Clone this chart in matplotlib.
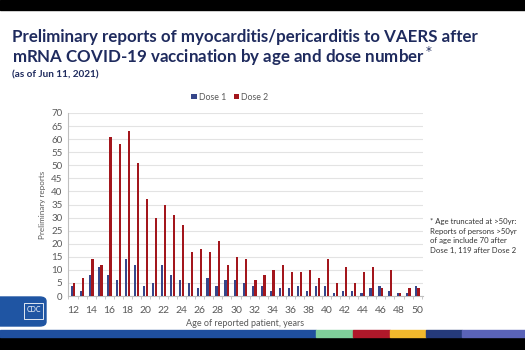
import matplotlib
matplotlib.use('Agg')
import matplotlib.pyplot as plt
from matplotlib.patches import Rectangle, FancyBboxPatch
import numpy as np

plt.rcParams['font.family'] = ['Lato', 'DejaVu Sans']

# reports by age of patient (12-50)
ages = list(range(12, 51))
dose1 = [4, 2, 8, 11, 8, 6, 14, 12, 4, 5, 12, 8, 6, 5, 3, 7, 4, 6, 6, 5,
         4, 4, 2, 3, 3, 4, 2, 4, 4, 1, 2, 2, 1, 3, 4, 2, 1, 1, 4]
dose2 = [5, 7, 14, 12, 61, 58, 63, 51, 37, 30, 35, 31, 27, 17, 18, 17, 21, 12, 15, 14,
         6, 8, 10, 12, 9, 9, 10, 7, 14, 5, 11, 5, 9, 11, 3, 10, 1, 3, 3]
tick_ages = list(range(12, 51, 2))

navy = '#1f2b5e'
blue = '#36468a'
red = '#a3161c'
grey = '#595959'

fig = plt.figure(figsize=(5.25, 3.5), dpi=100)
fig.patch.set_facecolor('white')

# screen bands
fig.add_artist(Rectangle((0, 1 - 10 / 350), 1, 10 / 350, transform=fig.transFigure,
                         color='black', zorder=0))
fig.add_artist(Rectangle((0, 0), 1, 13 / 350, transform=fig.transFigure,
                         color='black', zorder=0))
stripe = [(0, 316, '#1f4f9e'), (316, 353, '#7fcf9a'), (353, 390, '#b0182a'),
          (390, 426, '#f1b82d'), (426, 462, '#253a7a'), (462, 525, '#5a63b8')]
for x0, x1, c in stripe:
    fig.add_artist(Rectangle((x0 / 525, 13 / 350), (x1 - x0) / 525, 7 / 350,
                             transform=fig.transFigure, color=c, zorder=1))

# title
fig.text(12 / 525, 1 - 42 / 350, 'Preliminary reports of myocarditis/pericarditis to VAERS after',
         fontsize=12.2, fontweight='bold', color=navy)
fig.text(12 / 525, 1 - 63 / 350, 'mRNA COVID-19 vaccination by age and dose number$^*$',
         fontsize=12.2, fontweight='bold', color=navy)
fig.text(12 / 525, 1 - 77 / 350, '(as of Jun 11, 2021)',
         fontsize=7.2, fontweight='bold', color=navy)

ax = fig.add_axes([68 / 525, 54 / 350, 355 / 525, 183 / 350])
x = np.array(ages)
w = 0.24
ax.bar(x - 0.15, dose1, width=w, color=blue, label='Dose 1', zorder=3)
ax.bar(x + 0.15, dose2, width=w, color=red, label='Dose 2', zorder=3)

ax.set_xlim(11.45, 50.65)
ax.set_ylim(0, 70)
ax.set_yticks(range(0, 71, 5))
ax.set_xticks(tick_ages)
ax.set_xticks(np.arange(11.5, 51, 1), minor=True)
ax.tick_params(axis='x', which='major', length=0, pad=7, labelsize=7.5, colors=grey)
ax.tick_params(axis='x', which='minor', length=2.5, color='#bfbfbf')
ax.tick_params(axis='y', length=0, pad=4, labelsize=7, colors=grey)
ax.grid(axis='y', color='#e3e3e3', lw=0.8, zorder=0)
for s in ['top', 'right']:
    ax.spines[s].set_visible(False)
ax.spines['left'].set_color('#bfbfbf')
ax.spines['bottom'].set_color('#bfbfbf')
ax.set_ylabel('Preliminary reports', fontsize=5.8, color=grey, labelpad=4)
ax.set_xlabel('Age of reported patient, years', fontsize=6.5, color=grey, labelpad=3)

fig.legend(loc='center', bbox_to_anchor=(230 / 525, 1 - 97 / 350), ncol=2, frameon=False,
           fontsize=6.3, handlelength=0.6, handleheight=0.6, columnspacing=0.8,
           handletextpad=0.3, labelcolor=grey)

fig.text(430 / 525, 1 - 236 / 350,
         '* Age truncated at >50yr:\nReports of persons >50yr\nof age include 70 after\nDose 1, 119 after Dose 2',
         fontsize=5.6, color='#333333', va='center', linespacing=1.4)

# CDC logo box
logo = FancyBboxPatch((-6 / 525, 24 / 350), 52 / 525, 29 / 350, boxstyle='round,pad=0,rounding_size=0.012',
                      transform=fig.transFigure, color='#1f55a3', zorder=2)
fig.add_artist(logo)
fig.add_artist(Rectangle((24 / 525, 31 / 350), 19 / 525, 16 / 350, transform=fig.transFigure,
                         fill=False, ec='white', lw=0.6, zorder=3))
fig.text(33.5 / 525, 41 / 350, 'CDC', fontsize=5, color='white', ha='center', va='center', zorder=4)

fig.savefig('out.png', dpi=100)
